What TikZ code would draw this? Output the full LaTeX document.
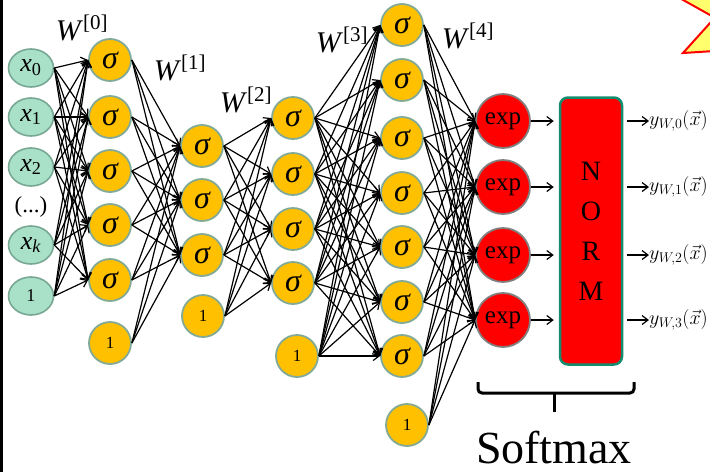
\documentclass[tikz,border=0pt]{standalone}
\usepackage{fix-cm}
\usepackage{fontspec}
\setmainfont{Liberation Serif}
\usetikzlibrary{arrows.meta,shapes.geometric}

\definecolor{mint}{RGB}{168,224,200}
\definecolor{mintline}{RGB}{120,168,148}
\definecolor{amber}{RGB}{255,192,0}
\definecolor{amberline}{RGB}{130,170,150}
\definecolor{normline}{RGB}{20,140,110}
\definecolor{starfill}{RGB}{255,255,110}

\begin{document}
\begin{tikzpicture}[
    x=1pt, y=-1pt,
    >={Straight Barb[length=6pt,width=9pt]},
    conn/.style={->, line width=1.2pt},
    inp/.style={ellipse, fill=mint, draw=mintline, line width=1.6pt,
        minimum width=45pt, minimum height=38pt, inner sep=0pt,
        font=\fontsize{26}{26}\selectfont},
    sig/.style={circle, fill=amber, draw=amberline, line width=1.8pt,
        minimum size=42pt, inner sep=0pt,
        font=\fontsize{32}{32}\selectfont\itshape},
    bias/.style={sig, font=\fontsize{17}{17}\selectfont},
    expo/.style={circle, fill=red, draw=gray, line width=1.8pt,
        minimum size=54pt, inner sep=0pt,
        font=\fontsize{25}{25}\selectfont},
    wlabel/.style={font=\fontsize{30}{30}\selectfont},
    outlabel/.style={anchor=west, inner sep=0pt, font=\fontsize{20}{20}\selectfont}
]
\useasboundingbox (0,0) rectangle (710,472);

% corner of the star
\begin{scope}
\clip (0,0) rectangle (710,472);
\filldraw[fill=starfill, draw=red, line width=2pt]
    (660,-13) -- (714.8,17.7) -- (683,53) -- (730,50) -- (730,-20) -- cycle;
\end{scope}

% left border
\draw[line width=2.5pt] (1.25,0) -- (1.25,472);

% inputs
\node (in1)    [inp] at (31,68)  {\textit{x}\textsubscript{0}};
\node (in2)    [inp] at (31,117) {\textit{x}\textsubscript{1}};
\node (in3)    [inp] at (31,167) {\textit{x}\textsubscript{2}};
\node (indots) [font=\fontsize{23}{23}\selectfont] at (31,207) {(...)};
\node (in4)    [inp] at (31,245) {\textit{x}\textsubscript{\textit{k}}};
\node (in5)    [inp, font=\fontsize{18}{18}\selectfont] at (31,296) {1};

% hidden layer 1
\node (hA1) [sig]  at (110,60)  {σ};
\node (hA2) [sig]  at (110,117) {σ};
\node (hA3) [sig]  at (110,171) {σ};
\node (hA4) [sig]  at (110,225) {σ};
\node (hA5) [sig]  at (110,280) {σ};
\node (hA6) [bias] at (110,343) {1};

% hidden layer 2
\node (hB1) [sig]  at (202,146) {σ};
\node (hB2) [sig]  at (202,200) {σ};
\node (hB3) [sig]  at (202,255) {σ};
\node (hB4) [bias] at (203,316) {1};

% hidden layer 3
\node (hC1) [sig]  at (293,118) {σ};
\node (hC2) [sig]  at (293,174) {σ};
\node (hC3) [sig]  at (293,229) {σ};
\node (hC4) [sig]  at (293,283) {σ};
\node (hC5) [bias] at (297,356) {1};

% hidden layer 4
\node (hD1) [sig]  at (402,25)  {σ};
\node (hD2) [sig]  at (402,80)  {σ};
\node (hD3) [sig]  at (402,138) {σ};
\node (hD4) [sig]  at (402,193) {σ};
\node (hD5) [sig]  at (402,247) {σ};
\node (hD6) [sig]  at (402,302) {σ};
\node (hD7) [sig]  at (402,356) {σ};
\node (hD8) [bias] at (407,425) {1};

% softmax
\node (ex1) [expo] at (503,121) {exp};
\node (ex2) [expo] at (503,187) {exp};
\node (ex3) [expo] at (503,255) {exp};
\node (ex4) [expo] at (503,320) {exp};
\node (norm) [fill=red, draw=normline, line width=2.5pt, rounded corners=8pt,
    minimum width=62pt, minimum height=267pt, align=center,
    font=\fontsize{28}{40}\selectfont] at (591,231) {N\\O\\R\\M};

\node (out1) [outlabel] at (649,121) {$y_{W,0}(\vec{x})$};
\node (out2) [outlabel] at (649,187) {$y_{W,1}(\vec{x})$};
\node (out3) [outlabel] at (649,255) {$y_{W,2}(\vec{x})$};
\node (out4) [outlabel] at (649,320) {$y_{W,3}(\vec{x})$};

% weight labels
\node (w0) [wlabel] at (82,28)  {\textit{W}\textsuperscript{[0]}};
\node (w1) [wlabel] at (180,68) {\textit{W}\textsuperscript{[1]}};
\node (w2) [wlabel] at (246,100) {\textit{W}\textsuperscript{[2]}};
\node (w3) [wlabel] at (342,40) {\textit{W}\textsuperscript{[3]}};
\node (w4) [wlabel] at (468,36) {\textit{W}\textsuperscript{[4]}};

% Edges
\foreach \s in {1,...,5}
    \foreach \t in {1,...,5}
        \draw[conn] (in\s.east) -- (hA\t.west);
\foreach \s in {1,...,6}
    \foreach \t in {1,...,3}
        \draw[conn] (hA\s.east) -- (hB\t.west);
\foreach \s in {1,...,4}
    \foreach \t in {1,...,4}
        \draw[conn] (hB\s.east) -- (hC\t.west);
\foreach \s in {1,...,5}
    \foreach \t in {1,...,7}
        \draw[conn] (hC\s.east) -- (hD\t.west);
\foreach \s in {1,...,8}
    \foreach \t in {1,...,4}
        \draw[conn] (hD\s.east) -- (ex\t.west);

\foreach \t in {1,...,4} {
    \draw[conn] (ex\t.east) -- ([xshift=-5pt]ex\t -| norm.west);
    \draw[conn] ([xshift=4pt]out\t -| norm.east) -- (out\t.west);
}

% brace
\draw[line width=3pt, rounded corners=4pt]
    (478,382) -- (478,393) -- (634,393) -- (634,382);
\draw[line width=3pt] (554,392) -- (554,412);
\node (softmax) [anchor=base, font=\fontsize{46}{46}\selectfont] at (554,463) {Softmax};

\end{tikzpicture}
\end{document}
